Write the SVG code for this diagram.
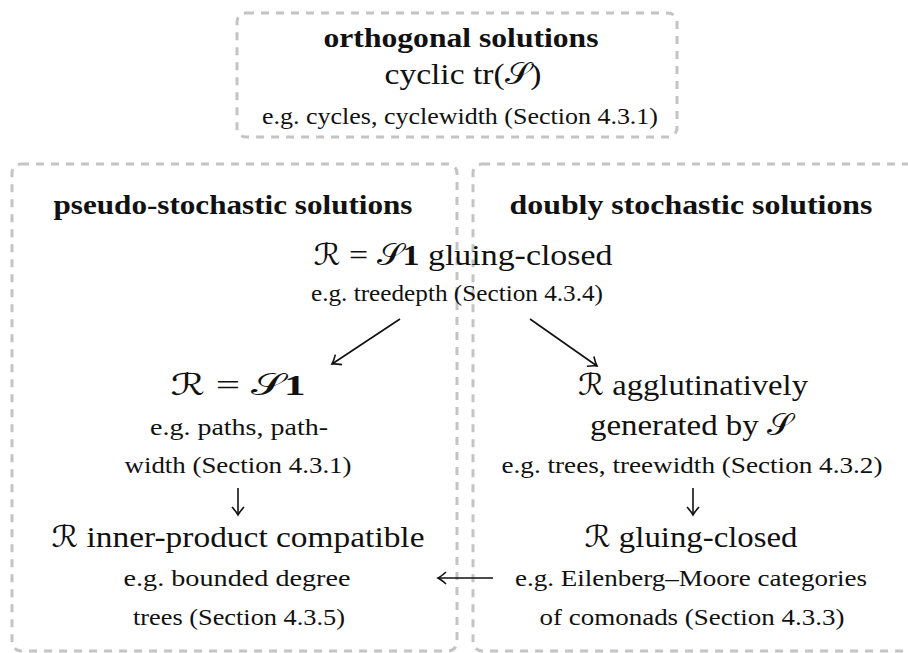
<svg xmlns="http://www.w3.org/2000/svg" width="908" height="653" viewBox="0 0 908 653">
<style>
.box{fill:none;stroke:#c4c4c4;stroke-width:3;stroke-dasharray:8 7}
text{font-family:"Liberation Serif","DejaVu Serif",serif;fill:#111;text-anchor:middle}
.h{font-weight:bold;font-size:28px}
.m{font-size:30px}
.s{font-size:23.5px}
.cal{font-family:"DejaVu Serif","DejaVu Sans",serif;font-style:normal}
.b{font-weight:bold}
.arr{fill:none;stroke:#111;stroke-width:1.6}
</style>
<defs>
<marker id="hd" viewBox="-10 -8 12 16" markerWidth="12" markerHeight="16" refX="0" refY="0" orient="auto" markerUnits="userSpaceOnUse">
<path d="M-8,-6 Q-3,-1.5 0,0 Q-3,1.5 -8,6" fill="none" stroke="#111" stroke-width="1.6"/>
</marker>
</defs>
<g id="orthogonal">
<rect class="box" x="237" y="13" width="440" height="124" rx="9"/>
<text class="h" x="461" y="47" textLength="275" lengthAdjust="spacingAndGlyphs">orthogonal solutions</text>
<text class="m" x="463" y="84" textLength="157" lengthAdjust="spacingAndGlyphs">cyclic tr(<tspan class="cal">𝒮</tspan>)</text>
<text class="s" x="460" y="124" textLength="396" lengthAdjust="spacingAndGlyphs">e.g. cycles, cyclewidth (Section 4.3.1)</text>
</g>
<g id="pseudo-stochastic">
<rect class="box" x="12" y="164" width="445" height="487" rx="9"/>
<text class="h" x="233" y="214" textLength="359" lengthAdjust="spacingAndGlyphs">pseudo-stochastic solutions</text>
</g>
<g id="doubly-stochastic">
<rect class="box" x="473" y="164" width="445" height="487" rx="9"/>
<text class="h" x="691" y="214" textLength="363" lengthAdjust="spacingAndGlyphs">doubly stochastic solutions</text>
</g>
<g id="gluing-closed-S1">
<text class="m" x="463" y="265" textLength="299" lengthAdjust="spacingAndGlyphs"><tspan class="cal">ℛ</tspan> = <tspan class="cal">𝒮</tspan><tspan class="b">1</tspan> gluing-closed</text>
<text class="s" x="457" y="301" textLength="292" lengthAdjust="spacingAndGlyphs">e.g. treedepth (Section 4.3.4)</text>
</g>
<g id="S1">
<text class="m" x="238" y="395" textLength="135" lengthAdjust="spacingAndGlyphs"><tspan class="cal">ℛ</tspan>  =  <tspan class="cal">𝒮</tspan><tspan class="b">1</tspan></text>
<text class="s" x="239" y="435" textLength="178" lengthAdjust="spacingAndGlyphs">e.g. paths, path-</text>
<text class="s" x="238" y="473" textLength="227" lengthAdjust="spacingAndGlyphs">width (Section 4.3.1)</text>
</g>
<g id="inner-product">
<text class="m" x="238" y="547" textLength="373" lengthAdjust="spacingAndGlyphs"><tspan class="cal">ℛ</tspan> inner-product compatible</text>
<text class="s" x="237" y="586" textLength="227" lengthAdjust="spacingAndGlyphs">e.g. bounded degree</text>
<text class="s" x="239" y="625" textLength="212" lengthAdjust="spacingAndGlyphs">trees (Section 4.3.5)</text>
</g>
<g id="agglutinative">
<text class="m" x="693" y="395" textLength="230" lengthAdjust="spacingAndGlyphs"><tspan class="cal">ℛ</tspan> agglutinatively</text>
<text class="m" x="691" y="435" textLength="202" lengthAdjust="spacingAndGlyphs">generated by <tspan class="cal">𝒮</tspan></text>
<text class="s" x="692" y="473" textLength="381" lengthAdjust="spacingAndGlyphs">e.g. trees, treewidth (Section 4.3.2)</text>
</g>
<g id="gluing-closed">
<text class="m" x="691" y="547" textLength="213" lengthAdjust="spacingAndGlyphs"><tspan class="cal">ℛ</tspan> gluing-closed</text>
<text class="s" x="691" y="586" textLength="352" lengthAdjust="spacingAndGlyphs">e.g. Eilenberg–Moore categories</text>
<text class="s" x="692" y="625" textLength="305" lengthAdjust="spacingAndGlyphs">of comonads (Section 4.3.3)</text>
</g>
<g id="connectors">
<line class="arr" x1="400" y1="319" x2="332" y2="364" marker-end="url(#hd)"/>
<line class="arr" x1="530" y1="319" x2="597" y2="366" marker-end="url(#hd)"/>
<line class="arr" x1="238" y1="488" x2="238" y2="515" marker-end="url(#hd)"/>
<line class="arr" x1="693" y1="488" x2="693" y2="515" marker-end="url(#hd)"/>
<line class="arr" x1="493" y1="578" x2="438" y2="578" marker-end="url(#hd)"/>
</g>
</svg>
